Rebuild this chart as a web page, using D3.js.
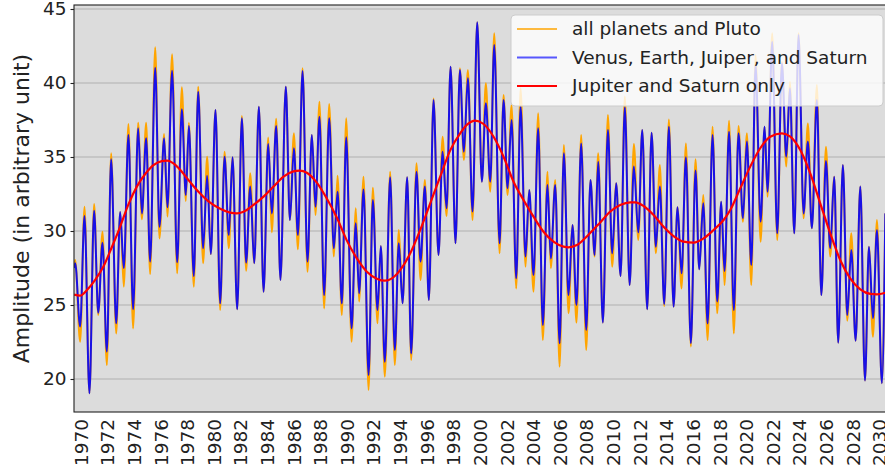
<!DOCTYPE html>
<html>
<head>
<meta charset="utf-8">
<script src="https://cdn.jsdelivr.net/npm/d3@7"></script>
<style>
  html, body { margin: 0; padding: 0; background: #ffffff; }
  svg { display: block; font-family: "DejaVu Sans", sans-serif; }
</style>
</head>
<body>
<svg id="chart" width="885" height="472"></svg>
<script>
// ---- Data ----
// Years of the local extremes of the fast-oscillating series
const extremeYears = [
  1969.52,1969.59,1969.96,1970.29,1970.66,1971.01,1971.32,1971.64,1971.97,1972.29,1972.67,
  1972.97,1973.24,1973.59,1973.94,1974.32,1974.60,1974.92,1975.22,1975.60,1975.92,
  1976.27,1976.52,1976.87,1977.25,1977.60,1977.90,1978.13,1978.50,1978.83,1979.20,
  1979.50,1979.78,1980.13,1980.48,1980.81,1981.13,1981.41,1981.76,1982.11,1982.43,
  1982.74,1983.04,1983.39,1983.74,1984.09,1984.36,1984.69,1985.01,1985.41,1985.72,
  1986.02,1986.32,1986.67,1987.04,1987.37,1987.64,1987.94,1988.29,1988.67,1989.02,
  1989.30,1989.62,1989.95,1990.35,1990.67,1990.92,1991.25,1991.63,1991.95,1992.30,
  1992.55,1992.85,1993.25,1993.60,1993.90,1994.18,1994.53,1994.83,1995.23,1995.53,
  1995.86,1996.16,1996.51,1996.88,1997.19,1997.49,1997.79,1998.16,1998.49,1998.79,
  1999.09,1999.44,1999.79,2000.14,2000.44,2000.77,2001.07,2001.47,2001.77,2002.07,
  2002.37,2002.72,2003.05,2003.42,2003.70,2004.02,2004.37,2004.72,2005.07,2005.32,
  2005.65,2005.98,2006.30,2006.65,2006.95,2007.25,2007.60,2007.98,2008.30,2008.61,
  2008.88,2009.23,2009.61,2009.93,2010.23,2010.56,2010.88,2011.24,2011.56,2011.89,
  2012.19,2012.56,2012.89,2013.21,2013.51,2013.84,2014.19,2014.54,2014.84,2015.14,
  2015.47,2015.84,2016.19,2016.47,2016.77,2017.10,2017.47,2017.82,2018.12,2018.37,
  2018.71,2019.07,2019.42,2019.75,2020.05,2020.38,2020.70,2021.08,2021.38,2021.60,
  2021.95,2022.33,2022.68,2023.01,2023.28,2023.61,2023.93,2024.31,2024.63,2024.93,
  2025.31,2025.64,2025.99,2026.31,2026.61,2026.91,2027.26,2027.59,2027.89,2028.22,
  2028.57,2028.92,2029.22,2029.52,2029.82,2030.19,2030.45
];
// "Venus, Earth, Juiper, and Saturn"
const vejsValues = [
  27.5,27.82,23.54,31.01,19.03,31.37,24.48,29.21,21.85,34.84,23.76,
  31.28,27.48,36.49,24.71,36.94,31.19,36.26,27.93,41.03,30.29,
  36.26,31.60,40.83,27.88,38.22,32.43,37.09,26.96,39.41,28.83,
  33.74,28.44,38.18,25.11,35.02,29.73,34.98,24.71,37.61,27.86,
  33.00,27.82,38.40,25.90,35.88,31.19,37.09,26.69,39.75,30.74,
  35.59,29.73,40.81,27.93,36.49,31.64,37.72,25.67,37.61,28.83,
  32.66,25.11,36.33,23.42,30.52,25.79,32.81,20.27,32.09,24.66,
  28.99,21.17,33.63,21.96,29.17,25.11,33.63,21.73,34.01,27.93,
  33.00,25.34,38.85,28.38,35.36,31.53,41.10,29.17,40.88,35.36,
  40.32,31.31,44.10,33.33,38.63,33.33,42.57,29.17,38.85,32.88,
  37.50,26.80,38.40,28.27,32.77,27.03,36.94,23.65,33.11,28.15,
  33.11,22.41,35.25,25.67,30.41,25.00,35.92,23.31,33.45,28.38,
  34.68,23.81,36.82,28.49,33.22,26.96,38.36,26.35,34.35,29.91,
  36.82,24.71,36.64,28.94,33.00,25.07,37.05,24.89,31.60,27.14,
  34.98,22.41,34.08,27.41,31.87,23.76,36.49,25.23,31.98,27.30,
  36.71,24.66,36.60,30.86,36.04,27.70,41.22,30.63,37.05,32.66,
  42.79,29.84,41.33,35.02,39.64,29.84,43.24,31.19,36.04,30.18,
  38.85,25.67,34.73,28.83,33.67,22.45,34.46,24.32,28.72,22.59,
  33.00,19.89,28.94,24.10,30.07,19.71,31.19
];
// "all planets and Pluto"
const allValues = [
  27.6,28.04,22.52,31.64,19.03,31.82,24.32,29.95,20.95,35.25,23.08,
  31.28,26.24,37.23,23.42,37.32,30.79,37.32,27.09,42.41,29.50,
  36.55,30.97,41.94,27.14,39.71,32.03,37.32,26.24,39.75,27.82,
  35.02,28.44,38.18,24.66,35.36,28.83,34.98,24.71,37.77,27.32,
  33.90,27.82,38.40,25.90,36.31,29.91,37.59,26.69,39.75,30.74,
  36.60,28.76,40.99,27.25,36.49,31.08,38.74,24.77,38.58,28.27,
  33.74,24.32,37.61,22.52,31.53,25.23,33.67,19.26,32.93,23.76,
  28.99,20.16,34.01,20.95,30.07,25.11,33.63,21.28,34.57,26.69,
  33.45,25.34,38.96,28.38,36.37,31.01,41.10,29.17,40.99,34.80,
  40.88,30.74,44.10,33.33,39.98,32.66,43.36,28.49,39.19,32.43,
  38.51,26.12,39.64,27.59,32.77,25.90,37.95,22.63,34.01,27.48,
  33.45,20.83,35.81,24.44,30.41,23.81,36.49,21.96,33.45,28.27,
  35.25,23.81,37.84,27.59,33.22,26.96,39.08,26.35,35.88,29.39,
  36.82,24.71,36.64,28.49,34.46,24.93,37.54,24.89,31.60,26.12,
  35.92,22.19,34.84,27.41,32.43,22.63,37.05,24.44,31.98,26.35,
  37.45,23.08,37.09,30.63,36.60,26.35,41.89,29.28,37.05,32.32,
  43.36,29.39,41.44,34.35,40.09,29.84,43.36,30.86,37.27,30.18,
  39.87,25.67,35.70,28.27,33.67,22.45,34.46,23.94,29.84,22.59,
  33.00,19.89,28.94,22.86,30.74,19.71,31.19
];
// "Jupiter and Saturn only"
const jsYears = [
  1969.51,1969.96,1970.46,1971.09,1971.71,1972.34,1972.97,1973.59,1974.22,1974.85,
  1975.47,1976.10,1976.50,1976.97,1977.60,1978.23,1978.85,1979.60,1980.48,1981.23,
  1981.73,1982.23,1982.98,1983.74,1984.49,1985.24,1985.99,1986.44,1986.99,1987.74,
  1988.49,1989.25,1990.00,1990.75,1991.50,1992.25,1992.85,1993.38,1994.00,1994.76,
  1995.51,1996.26,1997.01,1997.76,1998.51,1999.05,1999.64,2000.27,2001.02,2001.77,
  2002.52,2003.27,2004.02,2004.77,2005.52,2006.28,2006.65,2007.28,2008.10,2009.03,
  2009.78,2010.53,2011.29,2011.66,2012.29,2013.04,2013.79,2014.54,2015.29,2016.04,
  2016.80,2017.55,2018.30,2018.80,2019.55,2020.30,2021.05,2021.80,2022.68,2023.31,
  2024.06,2024.81,2025.56,2026.31,2027.06,2027.81,2028.57,2029.32,2029.82,2030.45
];
const jsValues = [
  25.70,25.63,26.00,26.70,27.60,28.90,30.30,31.80,33.00,33.85,
  34.45,34.72,34.75,34.57,34.00,33.30,32.65,32.00,31.50,31.24,
  31.19,31.30,31.76,32.32,33.00,33.67,34.03,34.08,33.94,33.27,
  32.20,30.90,29.35,28.15,27.25,26.78,26.64,26.80,27.36,28.49,
  30.07,31.87,33.67,35.45,36.60,37.20,37.46,37.23,36.37,35.02,
  33.33,32.09,30.97,29.95,29.28,28.94,28.90,29.05,29.70,30.58,
  31.31,31.76,31.94,31.94,31.69,31.08,30.29,29.66,29.28,29.21,
  29.50,30.07,30.74,31.42,32.88,34.35,35.59,36.37,36.60,36.37,
  35.47,33.90,31.87,29.84,28.04,26.80,26.06,25.75,25.72,25.83
];
const yTickValues = [20, 25, 30, 35, 40, 45];
const xTickYears = d3.range(1970, 2031, 2);
const seriesNames = ["all planets and Pluto", "Venus, Earth, Juiper, and Saturn", "Jupiter and Saturn only"];

(function () {
  // ---- Layout ----
  const svg = d3.select("#chart");
  const pL = 74, pR = 886, pT = 5, pB = 412;

  const x = d3.scaleLinear().domain([1969.5, 2030.5]).range([pL, pR]);
  const y = d3.scaleLinear().domain([17.77, 45.27]).range([pB, pT]);

  // background
  svg.append("rect").attr("x", pL).attr("y", pT)
    .attr("width", pR - pL).attr("height", pB - pT)
    .attr("fill", "#dcdcdc");

  // grid
  svg.append("g").selectAll("line").data(yTickValues).join("line")
    .attr("x1", pL).attr("x2", pR)
    .attr("y1", d => y(d)).attr("y2", d => y(d))
    .attr("stroke", "#b0b0b0").attr("stroke-width", 1.1);

  // clip
  svg.append("defs").append("clipPath").attr("id", "clip")
    .append("rect").attr("x", pL).attr("y", pT)
    .attr("width", pR - pL).attr("height", pB - pT);

  const plot = svg.append("g").attr("clip-path", "url(#clip)");

  const lineOf = (xs, vs) => d3.line()
    .x((d, i) => x(xs[i])).y(d => y(d))
    .curve(d3.curveMonotoneX)(vs);

  plot.append("path").attr("d", lineOf(extremeYears, allValues))
    .attr("fill", "none").attr("stroke", "orange").attr("stroke-width", 2)
    .attr("stroke-linejoin", "round");
  plot.append("path").attr("d", lineOf(extremeYears, vejsValues))
    .attr("fill", "none").attr("stroke", "#0000ff").attr("stroke-opacity", 0.9)
    .attr("stroke-width", 2).attr("stroke-linejoin", "round");
  plot.append("path").attr("d", lineOf(jsYears, jsValues))
    .attr("fill", "none").attr("stroke", "#ff0000").attr("stroke-width", 2.2);

  // axes frame
  svg.append("rect").attr("x", pL).attr("y", pT)
    .attr("width", pR - pL).attr("height", pB - pT)
    .attr("fill", "none").attr("stroke", "#222").attr("stroke-width", 1.1);

  // y axis
  const yAxis = d3.axisLeft(y).tickValues(yTickValues).tickSize(3.5).tickPadding(4);
  const ga = svg.append("g").attr("transform", `translate(${pL},0)`).call(yAxis);
  ga.select(".domain").remove();
  ga.selectAll("line").attr("stroke", "#222").attr("stroke-width", 1.1);
  ga.selectAll("text").attr("font-size", 18.5).attr("fill", "#222")
    .attr("font-family", "DejaVu Sans, sans-serif");

  // x axis labels (rotated)
  const xa = svg.append("g").attr("transform", `translate(0,${pB})`)
    .call(d3.axisBottom(x).tickValues(xTickYears).tickSize(0).tickFormat(d3.format("d")));
  xa.select(".domain").remove();
  xa.selectAll("text")
    .attr("font-size", 18.5).attr("fill", "#222")
    .attr("font-family", "DejaVu Sans, sans-serif")
    .attr("transform", "rotate(-90)")
    .attr("text-anchor", "end")
    .attr("dy", "0.35em")
    .attr("x", -7).attr("y", 0);

  // y label
  svg.append("text")
    .attr("transform", `translate(29,${(pT + pB) / 2}) rotate(-90)`)
    .attr("text-anchor", "middle")
    .attr("font-size", 22).attr("fill", "#222")
    .text("Amplitude (in arbitrary unit)");

  // legend
  const lg = svg.append("g");
  lg.append("rect").attr("x", 511).attr("y", 15).attr("width", 372).attr("height", 91)
    .attr("rx", 4).attr("fill", "#ffffff").attr("fill-opacity", 0.8)
    .attr("stroke", "#cccccc").attr("stroke-width", 1);
  const legendColors = ["orange", "#0000ff", "#ff0000"];
  const legendOpac = [1, 0.65, 1];
  const legendW = [1.6, 2, 2.2];
  seriesNames.forEach((name, i) => {
    const cy = 29 + i * 28.5;
    lg.append("line").attr("x1", 517).attr("x2", 557).attr("y1", cy).attr("y2", cy)
      .attr("stroke", legendColors[i]).attr("stroke-opacity", legendOpac[i])
      .attr("stroke-width", legendW[i]);
    lg.append("text").attr("x", 572).attr("y", cy).attr("dy", "0.35em")
      .attr("font-size", 18.5).attr("fill", "#222").text(name);
  });
})();
</script>
</body>
</html>
